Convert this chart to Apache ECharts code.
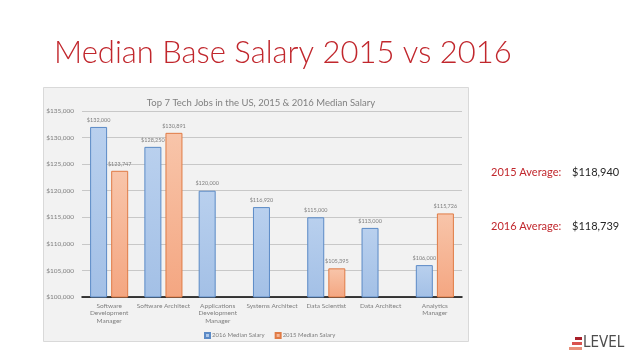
<!DOCTYPE html>
<html>
<head>
<meta charset="utf-8">
<style>
html,body{margin:0;padding:0;background:#fff;}
#c{width:638px;height:359px;}
</style>
<script src="https://cdn.jsdelivr.net/npm/echarts@6/dist/echarts.min.js"></script>
</head>
<body>
<div id="c"></div>
<script>
var categories = ['Software\nDevelopment\nManager', 'Software Architect', 'Applications\nDevelopment\nManager', 'Systems Architect', 'Data Scientist', 'Data Architect', 'Analytics\nManager'];
var salary2016 = [132000, 128250, 120000, 116920, 115000, 113000, 106000];
var salary2015 = [123747, 130891, null, null, 105395, null, 115726];
var yTicks = {min: 100000, max: 135000, interval: 5000};
var seriesNames = ['2016 Median Salary', '2015 Median Salary'];

var FONT = 'Lato, "Open Sans", sans-serif';
function money(v){ return '$' + Number(v).toLocaleString('en-US'); }

var chart = echarts.init(document.getElementById('c'));
chart.setOption({
  backgroundColor: '#ffffff',
  animation: false,
  title: [
    {text: 'Median Base Salary 2015 vs 2016', left: 49, top: 32,
     textStyle: {color: '#c1272d', fontSize: 31, fontWeight: 300, fontFamily: FONT}},
    {text: 'Top 7 Tech Jobs in the US, 2015 & 2016 Median Salary', left: 256, textAlign: 'center', top: 93,
     textStyle: {color: '#808080', fontSize: 9.5, fontWeight: 'normal', fontFamily: FONT}}
  ],
  graphic: [
    {type: 'rect', z: -10, shape: {x: 43.5, y: 87.5, width: 425, height: 254},
     style: {fill: '#f2f2f2', stroke: '#d9d9d9', lineWidth: 1}},
    {type: 'text', left: 491, top: 167, style: {text: '2015 Average:', fill: '#c1272d', font: '11px ' + FONT}},
    {type: 'text', left: 572, top: 167, style: {text: '$118,940', fill: '#262626', font: '11px ' + FONT}},
    {type: 'text', left: 491, top: 221, style: {text: '2016 Average:', fill: '#c1272d', font: '11px ' + FONT}},
    {type: 'text', left: 572, top: 221, style: {text: '$118,739', fill: '#262626', font: '11px ' + FONT}},
    {type: 'rect', shape: {x: 575, y: 337, width: 7, height: 3}, style: {fill: '#a8202a'}},
    {type: 'rect', shape: {x: 572, y: 342, width: 10, height: 3}, style: {fill: '#d9534f'}},
    {type: 'rect', shape: {x: 569, y: 347, width: 13, height: 3}, style: {fill: '#e8907a'}},
    {type: 'text', left: 583, top: 336, style: {text: 'LEVEL', fill: '#4d4d4d', font: '15px "Liberation Sans Narrow", "DejaVu Sans Condensed", sans-serif'}}
  ],
  legend: {
    data: seriesNames, left: 199, top: 327, itemWidth: 5, itemHeight: 5, itemGap: 10,
    icon: 'rect',
    textStyle: {color: '#7f7f7f', fontSize: 6, fontFamily: FONT, padding: [0,0,0,-3]}
  },
  grid: {left: 82, right: 176, top: 111, bottom: 62, containLabel: false},
  xAxis: {
    type: 'category', data: categories,
    axisLine: {lineStyle: {color: '#000', width: 1.5}},
    axisTick: {show: false},
    axisLabel: {color: '#7f7f7f', fontSize: 6.5, fontFamily: FONT, lineHeight: 7.5, margin: 5, interval: 0}
  },
  yAxis: {
    type: 'value', min: yTicks.min, max: yTicks.max, interval: yTicks.interval,
    axisLine: {show: false}, axisTick: {show: false},
    splitLine: {lineStyle: {color: '#c8c8c8', width: 1}},
    axisLabel: {color: '#7f7f7f', fontSize: 6.5, fontFamily: FONT, margin: 8, formatter: money}
  },
  series: [
    {name: seriesNames[0], type: 'bar', data: salary2016, barWidth: 17, barGap: '24%',
     itemStyle: {borderColor: '#5b8ac6', borderWidth: 1,
       color: new echarts.graphic.LinearGradient(0,0,0,1,[{offset:0,color:'#b9d0ee'},{offset:1,color:'#a3c0e6'}])},
     label: {show: true, position: 'top', distance: 4, color: '#7f7f7f', fontSize: 5.5, fontFamily: FONT, formatter: function(p){return money(p.value);}}},
    {name: seriesNames[1], type: 'bar', data: salary2015, barWidth: 17,
     itemStyle: {borderColor: '#e07b45', borderWidth: 1,
       color: new echarts.graphic.LinearGradient(0,0,0,1,[{offset:0,color:'#f8c5aa'},{offset:1,color:'#f4a681'}])},
     label: {show: true, position: 'top', distance: 4, color: '#7f7f7f', fontSize: 5.5, fontFamily: FONT, formatter: function(p){return money(p.value);}}}
  ]
});
</script>
</body>
</html>
